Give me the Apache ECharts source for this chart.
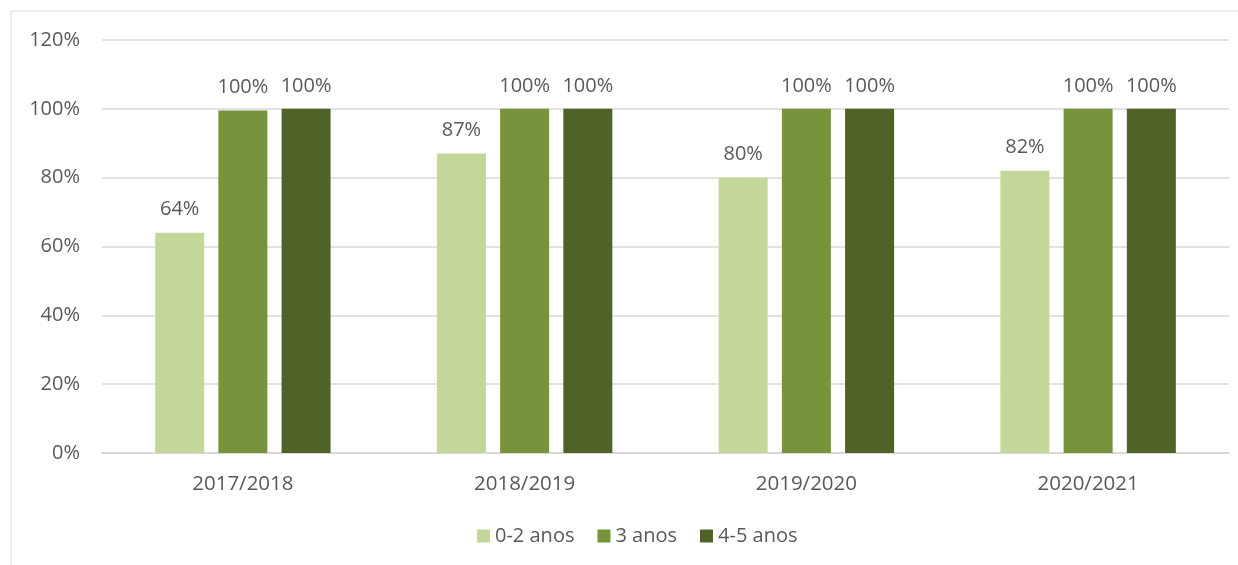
<!DOCTYPE html>
<html>
<head>
<meta charset="utf-8">
<script src="https://cdn.jsdelivr.net/npm/echarts@6/dist/echarts.min.js"></script>
<style>
  html, body { margin: 0; padding: 0; background: #fff; }
  #chart { width: 1238px; height: 565px; }
</style>
</head>
<body>
<div id="chart"></div>
<script>
const categories = ['2017/2018', '2018/2019', '2019/2020', '2020/2021']
const seriesNames = ['0-2 anos', '3 anos', '4-5 anos']
const ages02 = [64, 87, 80, 82]
const age3 = [99.5, 100, 100, 100]
const ages45 = [100, 100, 100, 100]
const colors = ['#c4d79b', '#77933c', '#4f6228']

const font = '"Open Sans", sans-serif'
const textColor = '#595959'

const chart = echarts.init(document.getElementById('chart'))

const makeSeries = (name, data, color) => ({
  name,
  type: 'bar',
  data,
  barWidth: 49,
  barGap: '29%',
  itemStyle: { color },
  label: {
    show: true,
    position: 'top',
    distance: 13,
    formatter: (p) => Math.round(p.value) + '%',
    color: textColor,
    fontFamily: font,
    fontSize: 20,
  },
})

chart.setOption({
  animation: false,
  textStyle: { fontFamily: font },
  graphic: [{
    type: 'rect',
    shape: { x: 11, y: 11, width: 1400, height: 700 },
    style: { fill: 'none', stroke: '#d9d9d9', lineWidth: 1 },
    silent: true,
  }],
  legend: {
    data: seriesNames,
    bottom: 14,
    left: 472,
    icon: 'rect',
    itemWidth: 13,
    itemHeight: 13,
    itemGap: 23,
    textStyle: { color: textColor, fontFamily: font, fontSize: 20 },
  },
  grid: { left: 102, right: 9, top: 40, bottom: 112 },
  xAxis: {
    type: 'category',
    data: categories,
    axisLine: { lineStyle: { color: '#d9d9d9', width: 2 } },
    axisTick: { show: false },
    axisLabel: { color: textColor, fontFamily: font, fontSize: 20.5, margin: 21 },
  },
  yAxis: {
    type: 'value',
    min: 0,
    max: 120,
    interval: 20,
    axisLine: { show: false },
    axisTick: { show: false },
    splitLine: { lineStyle: { color: '#d9d9d9', width: 1.5 } },
    axisLabel: {
      formatter: '{value}%',
      color: textColor,
      fontFamily: font,
      fontSize: 20,
      margin: 22,
    },
  },
  series: [
    makeSeries(seriesNames[0], ages02, colors[0]),
    makeSeries(seriesNames[1], age3, colors[1]),
    makeSeries(seriesNames[2], ages45, colors[2]),
  ],
})
</script>
</body>
</html>
